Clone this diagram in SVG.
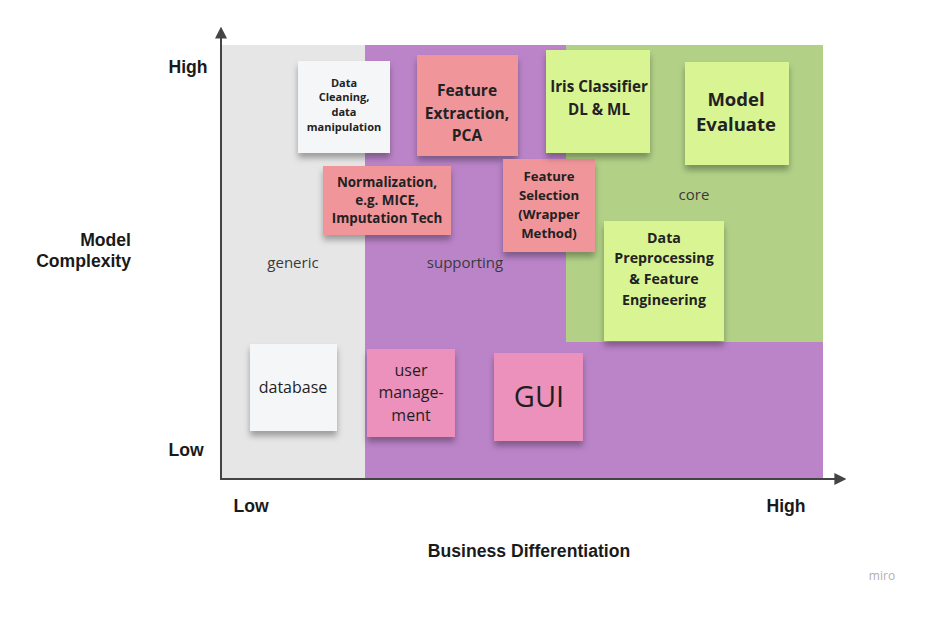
<svg xmlns="http://www.w3.org/2000/svg" width="947" height="633" viewBox="0 0 947 633">
<defs>
<style>
.ax{font-family:"Liberation Sans",Arial,sans-serif;font-weight:bold;font-size:17.6px;fill:#1a1a1a}
.st{font-family:"Open Sans","Noto Sans",sans-serif;font-weight:bold;fill:#222;text-anchor:middle}
.sn{font-family:"Open Sans","Noto Sans",sans-serif;fill:#1f1f1f;text-anchor:middle}
.zl{font-family:"Open Sans","Noto Sans",sans-serif;font-size:15px;fill:#3a3a3a;text-anchor:middle}
.axis{stroke:#444;stroke-width:2;fill:none}
</style>
<filter id="sh" x="-20%" y="-20%" width="140%" height="150%">
<feDropShadow dx="0" dy="5" stdDeviation="3" flood-color="#000" flood-opacity="0.32"/>
</filter>
<marker id="arr" viewBox="0 0 10 10" refX="8" refY="5" markerWidth="12" markerHeight="12" markerUnits="userSpaceOnUse" orient="auto">
<path d="M0,0 L10,5 L0,10 z" fill="#444"/>
</marker>
</defs>
<rect width="947" height="633" fill="#ffffff"/>
<g id="zones">
<rect x="221" y="45" width="144" height="434" fill="#e6e6e6"/>
<rect x="365" y="45" width="458" height="434" fill="#bb84c9"/>
<rect x="566" y="45" width="257" height="297" fill="#b2d187"/>
<text class="zl" x="293" y="268">generic</text>
<text class="zl" x="465" y="268">supporting</text>
<text class="zl" x="694" y="200">core</text>
</g>
<g id="connectors">
<line class="axis" x1="221" y1="480" x2="221" y2="29" marker-end="url(#arr)"/>
<line class="axis" x1="220" y1="479" x2="844" y2="479" marker-end="url(#arr)"/>
</g>
<g id="axis-labels">
<text class="ax" x="188" y="73" text-anchor="middle">High</text>
<text class="ax" x="186" y="456" text-anchor="middle">Low</text>
<text class="ax" x="131" y="246" text-anchor="end">Model</text>
<text class="ax" x="131" y="267" text-anchor="end">Complexity</text>
<text class="ax" x="251" y="512" text-anchor="middle">Low</text>
<text class="ax" x="786" y="512" text-anchor="middle">High</text>
<text class="ax" x="529" y="557" text-anchor="middle">Business Differentiation</text>
<text x="882" y="580" text-anchor="middle" font-family="'Open Sans',sans-serif" font-size="12" fill="#b0b0b0">miro</text>
</g>
<g id="data-cleaning">
<rect x="298" y="61" width="92" height="92" fill="#f5f6f8" filter="url(#sh)"/>
<text class="st" font-size="11"><tspan x="344" y="87">Data</tspan><tspan x="344" y="101">Cleaning,</tspan><tspan x="344" y="116">data</tspan><tspan x="344" y="131">manipulation</tspan></text>
</g>
<g id="feature-extraction">
<rect x="417" y="55" width="101" height="101" fill="#f0959a" filter="url(#sh)"/>
<text class="st" font-size="15.5"><tspan x="467" y="96">Feature</tspan><tspan x="467" y="119">Extraction,</tspan><tspan x="467" y="141">PCA</tspan></text>
</g>
<g id="normalization">
<rect x="323" y="166" width="128" height="69" fill="#f0969b" filter="url(#sh)"/>
<text class="st" font-size="13.4"><tspan x="387" y="187">Normalization,</tspan><tspan x="387" y="205">e.g. MICE,</tspan><tspan x="387" y="223">Imputation Tech</tspan></text>
</g>
<g id="feature-selection">
<rect x="503" y="159" width="92" height="93" fill="#f0959a" filter="url(#sh)"/>
<text class="st" font-size="13.2"><tspan x="549" y="181">Feature</tspan><tspan x="549" y="200">Selection</tspan><tspan x="549" y="219">(Wrapper</tspan><tspan x="549" y="238">Method)</tspan></text>
</g>
<g id="iris-classifier">
<rect x="546" y="50" width="104" height="103" fill="#d9f593" filter="url(#sh)"/>
<text class="st" font-size="15.2"><tspan x="599" y="92">Iris Classifier</tspan><tspan x="599" y="115">DL &amp; ML</tspan></text>
</g>
<g id="model-evaluate">
<rect x="685" y="62" width="104" height="103" fill="#d9f593" filter="url(#sh)"/>
<text class="st" font-size="18.5"><tspan x="736" y="106">Model</tspan><tspan x="736" y="131">Evaluate</tspan></text>
</g>
<g id="data-preprocessing">
<rect x="604" y="221" width="120" height="120" fill="#d9f593" filter="url(#sh)"/>
<text class="st" font-size="14.2"><tspan x="664" y="243">Data</tspan><tspan x="664" y="263">Preprocessing</tspan><tspan x="664" y="284">&amp; Feature</tspan><tspan x="664" y="305">Engineering</tspan></text>
</g>
<g id="database">
<rect x="250" y="344" width="87" height="87" fill="#f5f6f8" filter="url(#sh)"/>
<text class="sn" font-size="16" x="293" y="393">database</text>
</g>
<g id="user-management">
<rect x="367" y="349" width="88" height="88" fill="#ec91bc" filter="url(#sh)"/>
<text class="sn" font-size="16"><tspan x="411" y="376">user</tspan><tspan x="411" y="398">manage-</tspan><tspan x="411" y="421">ment</tspan></text>
</g>
<g id="gui">
<rect x="494" y="353" width="89" height="88" fill="#ec91bc" filter="url(#sh)"/>
<text class="sn" font-size="29" x="539" y="407">GUI</text>
</g>
</svg>
